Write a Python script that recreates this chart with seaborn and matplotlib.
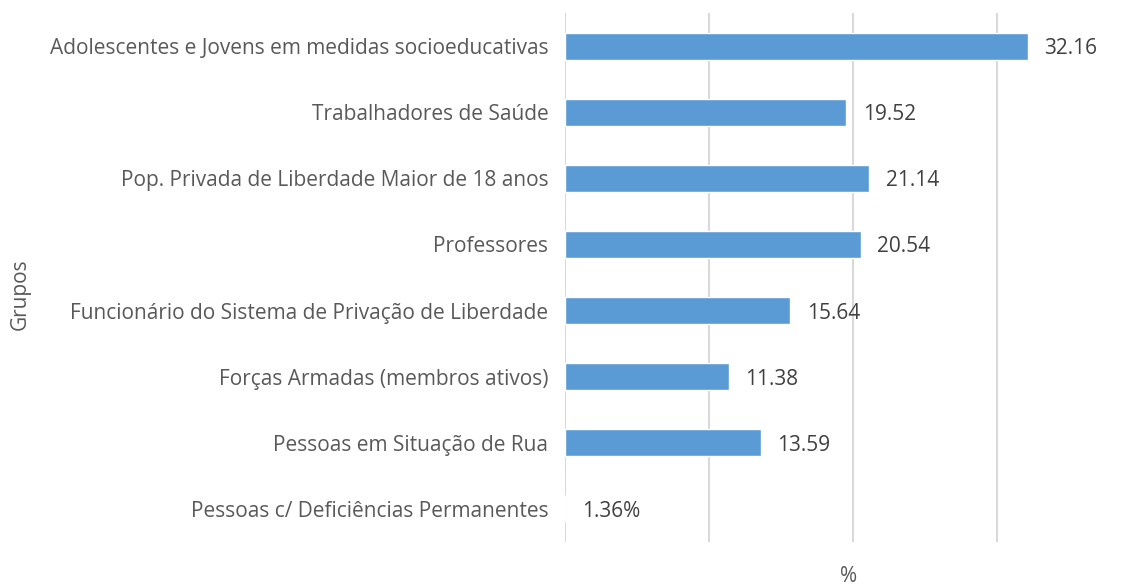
import matplotlib
matplotlib.use("Agg")
import matplotlib.pyplot as plt
import seaborn as sns
import pandas as pd

groups = [
    "Adolescentes e Jovens em medidas socioeducativas",
    "Trabalhadores de Saúde",
    "Pop. Privada de Liberdade Maior de 18 anos",
    "Professores",
    "Funcionário do Sistema de Privação de Liberdade",
    "Forças Armadas (membros ativos)",
    "Pessoas em Situação de Rua",
    "Pessoas c/ Deficiências Permanentes",
]
values = [32.16, 19.52, 21.14, 20.54, 15.64, 11.38, 13.59, 0.0136]
value_labels = ["32.16", "19.52", "21.14", "20.54", "15.64", "11.38", "13.59", "1.36%"]

sns.set_style("white")
plt.rcParams["font.family"] = ["Open Sans", "DejaVu Sans"]
text_color = "#595959"
grid_color = "#D9D9D9"
fs = 15

df = pd.DataFrame({"Grupos": groups, "Valor": values})

fig = plt.figure(figsize=(11.32, 5.88), dpi=100)
ax = fig.add_axes([565 / 1132, 1 - 542 / 588, 1 - 565 / 1132, (542 - 13) / 588])

sns.barplot(data=df, x="Valor", y="Grupos", orient="h", color="#5B9BD5",
            saturation=1, width=0.41, ax=ax, zorder=3)

ax.set_xlim(0, 39.4)
ax.set_ylim(7.5, -0.5)
ax.set_xticks([0, 10, 20, 30])
ax.set_xticklabels([])
ax.grid(axis="x", color=grid_color, linewidth=1.5, zorder=0)
ax.grid(axis="y", visible=False)
for s in ax.spines.values():
    s.set_visible(False)
ax.tick_params(axis="both", length=0)
ax.tick_params(axis="y", pad=12, labelsize=fs, labelcolor=text_color)

for i, (v, lab) in enumerate(zip(values, value_labels)):
    ax.annotate(lab, xy=(v, i), xytext=(12, 0), textcoords="offset points",
                va="center_baseline", ha="left", fontsize=fs, color="#404040")

ax.set_xlabel("%", fontsize=fs, color=text_color)
ax.xaxis.set_label_coords(0.5, -0.045, transform=ax.transAxes)
ax.set_ylabel("Grupos", fontsize=fs, color=text_color)
ax.yaxis.set_label_coords(31 / 1132, 0.5, transform=fig.transFigure)

fig.savefig("out.png", dpi=100)
